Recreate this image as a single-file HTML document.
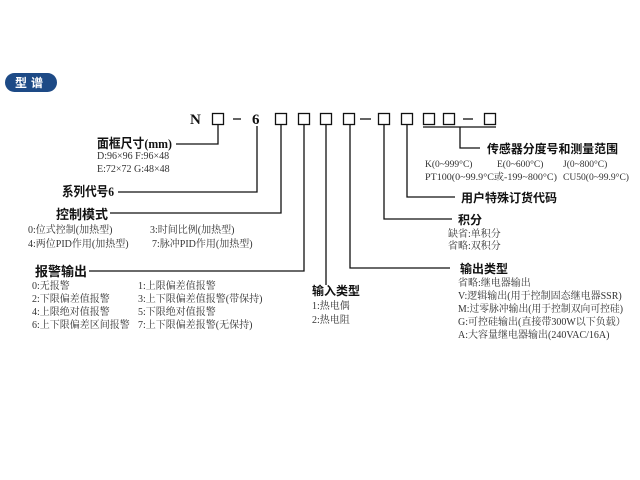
<!DOCTYPE html>
<html><head><meta charset="utf-8"><style>
html,body{margin:0;padding:0;background:#fff;}
svg{display:block;}
.l{font-family:"Liberation Serif","Noto Sans CJK SC",serif;font-weight:bold;font-size:13px;fill:#111;}
.r{font-family:"Liberation Serif","Noto Sans CJK SC",serif;font-weight:bold;font-size:12px;fill:#111;}
.s{font-family:"Liberation Serif","Noto Serif CJK SC",serif;font-size:10px;fill:#333;}
.t{font-family:"Liberation Serif","Noto Serif CJK SC",serif;font-size:9.5px;fill:#333;}
.h{font-family:"Liberation Serif","Noto Serif CJK SC",serif;font-weight:bold;font-size:15px;fill:#111;}
</style></head><body>
<svg width="640" height="480" viewBox="0 0 640 480">
<rect x="5" y="73" width="52" height="19" rx="9.5" fill="#1d4a86"/>
<text x="31" y="87" text-anchor="middle" font-family="Noto Sans CJK SC,sans-serif" font-weight="bold" font-size="12" fill="#fff" letter-spacing="4">型谱</text>

<g fill="none" stroke="#111" stroke-width="1.3">
<rect x="212.5" y="113.5" width="11" height="11"/>
<rect x="275.5" y="113.5" width="11" height="11"/>
<rect x="298.5" y="113.5" width="11" height="11"/>
<rect x="320.5" y="113.5" width="11" height="11"/>
<rect x="343.5" y="113.5" width="11" height="11"/>
<rect x="378.5" y="113.5" width="11" height="11"/>
<rect x="401.5" y="113.5" width="11" height="11"/>
<rect x="423.5" y="113.5" width="11" height="11"/>
<rect x="443.5" y="113.5" width="11" height="11"/>
<rect x="484.5" y="113.5" width="11" height="11"/>
<line x1="233" y1="119" x2="241" y2="119"/>
<line x1="360" y1="119" x2="371" y2="119"/>
<line x1="463" y1="119" x2="473" y2="119"/>
<line x1="423" y1="127" x2="496" y2="127"/>
<polyline points="218,125 218,144 176,144"/>
<polyline points="257,126 257,192 118,192"/>
<polyline points="281,125 281,213 110,213"/>
<polyline points="304,125 304,271 89,271"/>
<polyline points="326,125 326,285"/>
<polyline points="350,125 350,268 450,268"/>
<polyline points="384,125 384,219 452,219"/>
<polyline points="407,125 407,197 455,197"/>
<polyline points="460,127 460,148 480,148"/>
</g>
<text class="h" x="190" y="124">N</text>
<text class="h" x="252" y="124">6</text>

<text class="l" x="97" y="148" textLength="75" lengthAdjust="spacingAndGlyphs">面框尺寸(mm)</text>
<text class="s" x="97" y="159">D:96×96  F:96×48</text>
<text class="s" x="97" y="172">E:72×72  G:48×48</text>

<text class="l" x="62" y="196" textLength="52" lengthAdjust="spacingAndGlyphs">系列代号6</text>

<text class="l" x="56" y="219">控制模式</text>
<text class="s" x="28" y="233">0:位式控制(加热型)</text>
<text class="s" x="150" y="233">3:时间比例(加热型)</text>
<text class="s" x="28" y="247">4:两位PID作用(加热型)</text>
<text class="s" x="152" y="247">7:脉冲PID作用(加热型)</text>

<text class="l" x="35" y="276">报警输出</text>
<text class="s" x="32" y="289">0:无报警</text>
<text class="s" x="138" y="289">1:上限偏差值报警</text>
<text class="s" x="32" y="302">2:下限偏差值报警</text>
<text class="s" x="138" y="302">3:上下限偏差值报警(带保持)</text>
<text class="s" x="32" y="315">4:上限绝对值报警</text>
<text class="s" x="138" y="315">5:下限绝对值报警</text>
<text class="s" x="32" y="328">6:上下限偏差区间报警</text>
<text class="s" x="138" y="328">7:上下限偏差报警(无保持)</text>

<text class="r" x="312" y="295">输入类型</text>
<text class="s" x="312" y="309">1:热电偶</text>
<text class="s" x="312" y="323">2:热电阻</text>

<text class="r" x="460" y="273">输出类型</text>
<text class="s" x="458" y="286">省略:继电器输出</text>
<text class="s" x="458" y="299">V:逻辑输出(用于控制固态继电器SSR)</text>
<text class="s" x="458" y="312" textLength="165" lengthAdjust="spacingAndGlyphs">M:过零脉冲输出(用于控制双向可控硅)</text>
<text class="s" x="458" y="325">G:可控硅输出(直接带300W以下负载）</text>
<text class="s" x="458" y="338">A:大容量继电器输出(240VAC/16A)</text>

<text class="r" x="458" y="224">积分</text>
<text class="s" x="448" y="237">缺省:单积分</text>
<text class="s" x="448" y="249">省略:双积分</text>

<text class="r" x="461" y="202">用户特殊订货代码</text>

<text class="r" x="487" y="153" textLength="131" lengthAdjust="spacingAndGlyphs">传感器分度号和测量范围</text>
<text class="t" x="425" y="167">K(0~999°C)</text>
<text class="t" x="497" y="167">E(0~600°C)</text>
<text class="t" x="563" y="167">J(0~800°C)</text>
<text class="t" x="425" y="180" textLength="132" lengthAdjust="spacingAndGlyphs">PT100(0~99.9°C或-199~800°C)</text>
<text class="t" x="563" y="180" textLength="66" lengthAdjust="spacingAndGlyphs">CU50(0~99.9°C)</text>
</svg>
</body></html>
